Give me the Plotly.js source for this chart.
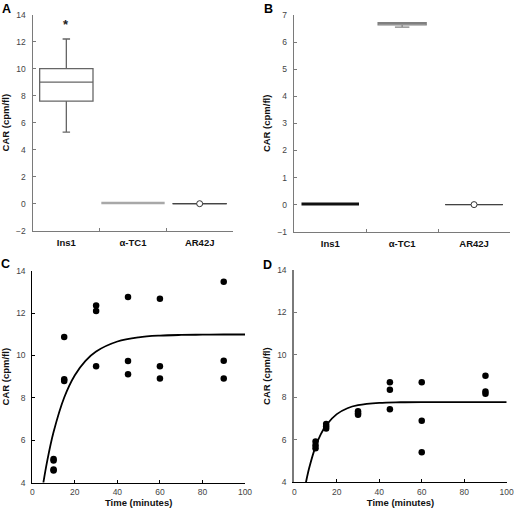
<!DOCTYPE html>
<html>
<head>
<meta charset="utf-8">
<script src="https://cdn.plot.ly/plotly-3.0.1.min.js"></script>
<style>html,body{margin:0;padding:0;background:#fff;}#chart{width:514px;height:510px;}</style>
</head>
<body>
<div id="chart"></div>
<script>
// ---- Data ----
const categories = ['Ins1', 'α-TC1', 'AR42J'];

// Panel A (box statistics per cell line)
const aQ1 = [7.6, 0.05, 0.0];
const aMedian = [9.0, 0.05, 0.0];
const aQ3 = [10.0, 0.05, 0.0];
const aLower = [5.3, 0.05, 0.0];
const aUpper = [12.2, 0.05, 0.0];
const aStarValue = 13.3;

// Panel B (box statistics per cell line)
const bQ1 = [0.02, 6.63, 0.0];
const bMedian = [0.02, 6.68, 0.0];
const bQ3 = [0.02, 6.72, 0.0];
const bLower = [0.02, 6.55, 0.0];
const bUpper = [0.02, 6.72, 0.0];
const bStarValue = 7.22;

// Open circle on AR42J
const openCircleCat = ['AR42J'];
const openCircleValue = [0.0];

// Panel C: time course scatter
const cTime = [10, 10, 10, 10, 15, 15, 15, 30, 30, 30, 45, 45, 45, 60, 60, 60, 90, 90, 90];
const cCAR = [5.12, 5.05, 4.62, 4.58, 10.87, 8.88, 8.80, 12.36, 12.10, 9.49, 12.76, 9.74, 9.11, 12.68, 9.49, 8.91, 13.48, 9.75, 8.92];
// Panel C fitted curve
const cFitTime = [5.2, 7, 10, 15, 20, 25, 30, 40, 50, 60, 70, 80, 90, 100];
const cFitCAR = [4.0, 5.02, 6.39, 8.02, 9.07, 9.75, 10.19, 10.66, 10.86, 10.94, 10.97, 10.98, 10.99, 10.99];

// Panel D: time course scatter
const dTime = [10, 10, 10, 15, 15, 15, 30, 30, 30, 45, 45, 45, 60, 60, 60, 90, 90, 90];
const dCAR = [5.92, 5.75, 5.60, 6.75, 6.64, 6.54, 7.35, 7.25, 7.18, 8.71, 8.36, 7.44, 8.71, 6.90, 5.41, 9.02, 8.28, 8.17];
// Panel D fitted curve
const dFitTime = [5.5, 7, 10, 12.5, 15, 20, 25, 30, 40, 50, 60, 70, 80, 90, 100];
const dFitCAR = [4.0, 4.67, 5.68, 6.27, 6.69, 7.21, 7.49, 7.63, 7.74, 7.77, 7.78, 7.78, 7.78, 7.78, 7.78];

// Panel letters
const panelLetters = ['A', 'B', 'C', 'D'];

// ---- Styling helpers ----
const FONT = 'Liberation Sans, Arial, Helvetica, sans-serif';
const W = 514, H = 510;
const px = v => v / W;
const py = v => 1 - v / H;

const aStyles = [
  {w: 0.8, line: '#666666', lw: 1.3, fill: '#ffffff', ww: 0.14},
  {w: 0.95, line: '#a8a8a8', lw: 2.5, fill: '#a8a8a8', ww: 0},
  {w: 0.81, line: '#444444', lw: 1, fill: '#444444', ww: 0}
];
const bStyles = [
  {w: 0.8, line: '#111111', lw: 3, fill: '#111111', ww: 0},
  {w: 0.67, line: '#808080', lw: 1.2, fill: '#d4d4d4', ww: 0.3},
  {w: 0.8, line: '#444444', lw: 1, fill: '#444444', ww: 0}
];

const traces = [];
categories.forEach((c, i) => {
  traces.push({
    type: 'box', xaxis: 'x', yaxis: 'y', x: [c],
    q1: [aQ1[i]], median: [aMedian[i]], q3: [aQ3[i]],
    lowerfence: [aLower[i]], upperfence: [aUpper[i]],
    width: aStyles[i].w, whiskerwidth: aStyles[i].ww,
    fillcolor: aStyles[i].fill, line: {color: aStyles[i].line, width: aStyles[i].lw},
    boxpoints: false, showlegend: false, hoverinfo: 'skip'
  });
  traces.push({
    type: 'box', xaxis: 'x2', yaxis: 'y2', x: [c],
    q1: [bQ1[i]], median: [bMedian[i]], q3: [bQ3[i]],
    lowerfence: [bLower[i]], upperfence: [bUpper[i]],
    width: bStyles[i].w, whiskerwidth: bStyles[i].ww,
    fillcolor: bStyles[i].fill, line: {color: bStyles[i].line, width: bStyles[i].lw},
    boxpoints: false, showlegend: false, hoverinfo: 'skip'
  });
});
[['x', 'y'], ['x2', 'y2']].forEach(([xa, ya]) => {
  traces.push({
    type: 'scatter', mode: 'markers', xaxis: xa, yaxis: ya,
    x: openCircleCat, y: openCircleValue,
    marker: {color: '#ffffff', size: 6, line: {color: '#333333', width: 1}},
    showlegend: false, hoverinfo: 'skip', cliponaxis: false
  });
});
traces.push({type: 'scatter', mode: 'lines', xaxis: 'x3', yaxis: 'y3', x: cFitTime, y: cFitCAR,
  line: {color: '#000', width: 1.8, shape: 'spline'}, showlegend: false});
traces.push({type: 'scatter', mode: 'markers', xaxis: 'x3', yaxis: 'y3', x: cTime, y: cCAR,
  marker: {color: '#000', size: 6.5}, showlegend: false, cliponaxis: false});
traces.push({type: 'scatter', mode: 'lines', xaxis: 'x4', yaxis: 'y4', x: dFitTime, y: dFitCAR,
  line: {color: '#000', width: 1.8, shape: 'spline'}, showlegend: false});
traces.push({type: 'scatter', mode: 'markers', xaxis: 'x4', yaxis: 'y4', x: dTime, y: dCAR,
  marker: {color: '#000', size: 6.5}, showlegend: false, cliponaxis: false});

const tickFont = {family: FONT, size: 8.5, color: '#444'};
const titleFont = {family: FONT, size: 9.5, color: '#111', weight: 'bold'};

function catAxis(domain, anchor, col) {
  return {
    domain: domain, anchor: anchor, type: 'category', categoryarray: categories,
    range: [-0.5, 2.5], tickson: 'boundaries', ticks: 'inside', ticklen: 3,
    tickcolor: col, showline: true, linecolor: col, linewidth: 1.5, showgrid: false, zeroline: false,
    ticklabelstandoff: 2, ticklabeloverflow: 'allow',
    tickfont: {family: FONT, size: 9.5, color: '#111', weight: 'bold'}, fixedrange: true
  };
}
function valAxis(domain, anchor, range, dtick, col, lw) {
  return {
    domain: domain, anchor: anchor, range: range, dtick: dtick, tick0: 0,
    ticks: 'inside', ticklen: 3, tickcolor: col, showline: true, linecolor: col, linewidth: lw,
    showgrid: false, zeroline: false, tickfont: tickFont, ticklabelstandoff: 4,
    ticklabeloverflow: 'allow',
    title: {text: 'CAR (cpm/fl)', font: titleFont, standoff: 5}, fixedrange: true
  };
}
function timeAxis(domain, anchor) {
  return {
    domain: domain, anchor: anchor, range: [0, 100], dtick: 20,
    ticks: 'inside', ticklen: 3, tickcolor: '#000', showline: true, linecolor: '#000', linewidth: 1,
    showgrid: false, zeroline: false, tickfont: tickFont, ticklabelstandoff: 1,
    ticklabeloverflow: 'allow',
    title: {text: 'Time (minutes)', font: titleFont, standoff: 3}, fixedrange: true
  };
}

const letterPos = [[6, 8.5], [268, 8.5], [5, 263.5], [267, 265]];
const letterAnns = panelLetters.map((t, i) => ({
  xref: 'paper', yref: 'paper', x: px(letterPos[i][0]), y: py(letterPos[i][1]),
  xanchor: 'center', yanchor: 'middle', text: t, showarrow: false,
  font: {family: FONT, size: 12.5, color: '#000', weight: 'bold'}
}));

const layout = {
  width: W, height: H, margin: {l: 0, r: 0, t: 0, b: 0},
  paper_bgcolor: '#fff', plot_bgcolor: '#fff', showlegend: false,
  font: {family: FONT},
  boxmode: 'overlay',
  xaxis: catAxis([px(33), px(233)], 'y', '#7a7a7a'),
  yaxis: valAxis([py(230.7), py(14.7)], 'x', [-2, 14], 2, '#7a7a7a', 1.5),
  xaxis2: catAxis([px(294.3), px(510)], 'y2', '#7a7a7a'),
  yaxis2: valAxis([py(231.7), py(15)], 'x2', [-1, 7], 1, '#7a7a7a', 1.5),
  xaxis3: timeAxis([px(32.3), px(245)], 'y3'),
  yaxis3: valAxis([py(482.7), py(270.7)], 'x3', [4, 14], 2, '#000', 1),
  xaxis4: timeAxis([px(294.3), px(506.7)], 'y4'),
  yaxis4: valAxis([py(482.3), py(270)], 'x4', [4, 14], 2, '#7a7a7a', 2),
  annotations: [
    {xref: 'x', yref: 'y', x: 'Ins1', y: aStarValue, text: '*', showarrow: false, font: {family: FONT, size: 13, color: '#222', weight: 'bold'}},
    {xref: 'x2', yref: 'y2', x: 'α-TC1', y: bStarValue, text: '*', showarrow: false, font: {family: FONT, size: 13, color: '#222', weight: 'bold'}}
  ].concat(letterAnns)
};

Plotly.newPlot('chart', traces, layout, {displayModeBar: false, staticPlot: true});
</script>
</body>
</html>
